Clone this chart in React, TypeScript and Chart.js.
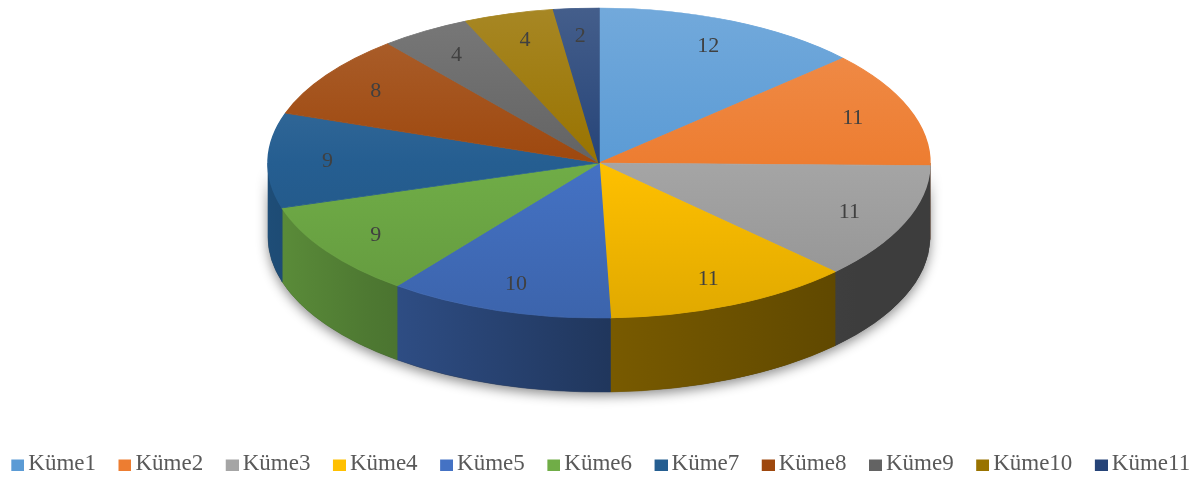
import React, { useEffect, useRef } from 'react';
import { Chart, registerables } from 'chart.js';

Chart.register(...registerables);

// ---- data ----
const LABELS = ['Küme1', 'Küme2', 'Küme3', 'Küme4', 'Küme5', 'Küme6', 'Küme7', 'Küme8', 'Küme9', 'Küme10', 'Küme11'];
const VALUES = [12, 11, 11, 11, 10, 9, 9, 8, 4, 4, 2];
const COLORS = ['#5B9BD5', '#ED7D31', '#A5A5A5', '#FFC000', '#4472C4', '#70AD47', '#255E91', '#9E480E', '#636363', '#997300', '#264478'];

// ---- layout ----
const CANVAS_W = 1220;
const CANVAS_H = 485;
const CANVAS_LEFT = -13;
const PIE_CX = 599 - CANVAS_LEFT;
const PIE_CY = 163;
const PIE_RX = 331;
const PIE_RY = 155;
const PIE_DEPTH = 74;
const LABEL_R = 0.82;
const FONT = "'Liberation Serif', 'Times New Roman', serif";

function hexToRgb(hex: string) {
  const h = hex.replace('#', '');
  return [parseInt(h.slice(0, 2), 16), parseInt(h.slice(2, 4), 16), parseInt(h.slice(4, 6), 16)];
}
function shade(hex: string, f: number) {
  const [r, g, b] = hexToRgb(hex);
  return `rgb(${Math.round(r * f)},${Math.round(g * f)},${Math.round(b * f)})`;
}
function lighten(hex: string, t: number) {
  const [r, g, b] = hexToRgb(hex);
  return `rgb(${Math.round(r + (255 - r) * t)},${Math.round(g + (255 - g) * t)},${Math.round(b + (255 - b) * t)})`;
}

// legend marker: a 13x11 square placed at the right side of a wider transparent image
function legendMarker(color: string) {
  const c = document.createElement('canvas');
  c.width = 28;
  c.height = 14;
  const x = c.getContext('2d') as CanvasRenderingContext2D;
  x.fillStyle = color;
  x.fillRect(15, 3, 13, 11);
  return c;
}

function topFill(c: any) {
  const i = c.dataIndex ?? 0;
  const chart = c.chart;
  const area = chart.chartArea;
  if (!area) return COLORS[i];
  const cy = (area.top + area.bottom) / 2;
  const R = Math.min(area.width, area.height) / 2;
  const g = chart.ctx.createLinearGradient(0, cy - R, 0, cy + R);
  g.addColorStop(0, lighten(COLORS[i], 0.14));
  g.addColorStop(0.5, COLORS[i]);
  g.addColorStop(1, shade(COLORS[i], 0.88));
  return g;
}

const pie3d = {
  id: 'pie3d',
  beforeDatasetsDraw(chart: any) {
    const ctx = chart.ctx;
    const arcs = chart.getDatasetMeta(0).data;
    ctx.save();
    if (!arcs.length) return;
    // shadow under the pie
    ctx.save();
    ctx.beginPath();
    ctx.ellipse(PIE_CX, PIE_CY, PIE_RX, PIE_RY, 0, 0, Math.PI);
    ctx.lineTo(PIE_CX - PIE_RX, PIE_CY + PIE_DEPTH);
    ctx.ellipse(PIE_CX, PIE_CY + PIE_DEPTH, PIE_RX, PIE_RY, 0, Math.PI, 0, true);
    ctx.closePath();
    ctx.shadowColor = 'rgba(0,0,0,0.45)';
    ctx.shadowBlur = 12;
    ctx.shadowOffsetY = 4;
    ctx.fillStyle = '#333';
    ctx.fill();
    ctx.restore();
    // side walls
    arcs.forEach((arc: any, i: number) => {
      const { startAngle, endAngle } = arc.getProps(['startAngle', 'endAngle'], true);
      const a = Math.max(startAngle, 0);
      const b = Math.min(endAngle, Math.PI);
      if (b <= a) return;
      const g = ctx.createLinearGradient(PIE_CX - PIE_RX, 0, PIE_CX + PIE_RX, 0);
      g.addColorStop(0, shade(COLORS[i], 0.82));
      g.addColorStop(0.15, shade(COLORS[i], 0.7));
      g.addColorStop(0.52, shade(COLORS[i], 0.47));
      g.addColorStop(0.89, shade(COLORS[i], 0.37));
      g.addColorStop(1, shade(COLORS[i], 0.37));
      ctx.beginPath();
      ctx.ellipse(PIE_CX, PIE_CY, PIE_RX, PIE_RY, 0, a, b);
      ctx.lineTo(PIE_CX + PIE_RX * Math.cos(b), PIE_CY + PIE_DEPTH + PIE_RY * Math.sin(b));
      ctx.ellipse(PIE_CX, PIE_CY + PIE_DEPTH, PIE_RX, PIE_RY, 0, b, a, true);
      ctx.closePath();
      ctx.fillStyle = g;
      ctx.fill();
      ctx.strokeStyle = g;
      ctx.lineWidth = 0.6;
      ctx.stroke();
    });
    // squash the top faces into an ellipse
    const { x, y, outerRadius } = arcs[0].getProps(['x', 'y', 'outerRadius'], true);
    ctx.translate(PIE_CX, PIE_CY);
    ctx.scale(PIE_RX / outerRadius, PIE_RY / outerRadius);
    ctx.translate(-x, -y);
  },
  afterDatasetsDraw(chart: any) {
    const ctx = chart.ctx;
    ctx.restore();
    const arcs = chart.getDatasetMeta(0).data;
    ctx.save();
    ctx.font = `22px ${FONT}`;
    ctx.fillStyle = '#404040';
    ctx.textAlign = 'center';
    ctx.textBaseline = 'middle';
    arcs.forEach((arc: any, i: number) => {
      const { startAngle, endAngle } = arc.getProps(['startAngle', 'endAngle'], true);
      const mid = (startAngle + endAngle) / 2;
      const lx = PIE_CX + Math.cos(mid) * PIE_RX * LABEL_R;
      const ly = PIE_CY + Math.sin(mid) * PIE_RY * LABEL_R;
      ctx.fillText(String(VALUES[i]), lx, ly);
    });
    ctx.restore();
  },
};

export default function App() {
  const ref = useRef<HTMLCanvasElement>(null);
  useEffect(() => {
    const markers = COLORS.map(legendMarker);
    const chart = new Chart(ref.current as HTMLCanvasElement, {
      type: 'pie',
      data: {
        labels: LABELS,
        datasets: [
          {
            data: VALUES,
            backgroundColor: topFill as any,
            borderColor: topFill as any,
            borderWidth: 1,
            clip: false as any,
          },
        ],
      },
      options: {
        responsive: false,
        animation: false,
        devicePixelRatio: 1,
        events: [],
        layout: { padding: 0 },
        plugins: {
          tooltip: { enabled: false },
          legend: {
            position: 'bottom',
            labels: {
              usePointStyle: true,
              boxWidth: 13,
              boxHeight: 11,
              padding: 15,
              color: '#595959',
              font: { family: FONT, size: 23 },
              generateLabels: () =>
                LABELS.map((t, i) => ({
                  text: t,
                  fillStyle: COLORS[i],
                  strokeStyle: COLORS[i],
                  lineWidth: 0,
                  pointStyle: markers[i] as any,
                  fontColor: '#595959',
                  hidden: false,
                  index: i,
                })),
            },
          },
        },
      },
      plugins: [pie3d],
    });
    return () => chart.destroy();
  }, []);
  return (
    <div style={{ position: 'fixed', left: 0, top: 0, width: 1198, height: 478, overflow: 'hidden', background: '#fff' }}>
      <canvas
        ref={ref}
        width={CANVAS_W}
        height={CANVAS_H}
        style={{ position: 'absolute', left: CANVAS_LEFT, top: 0, width: CANVAS_W, height: CANVAS_H }}
      />
    </div>
  );
}
